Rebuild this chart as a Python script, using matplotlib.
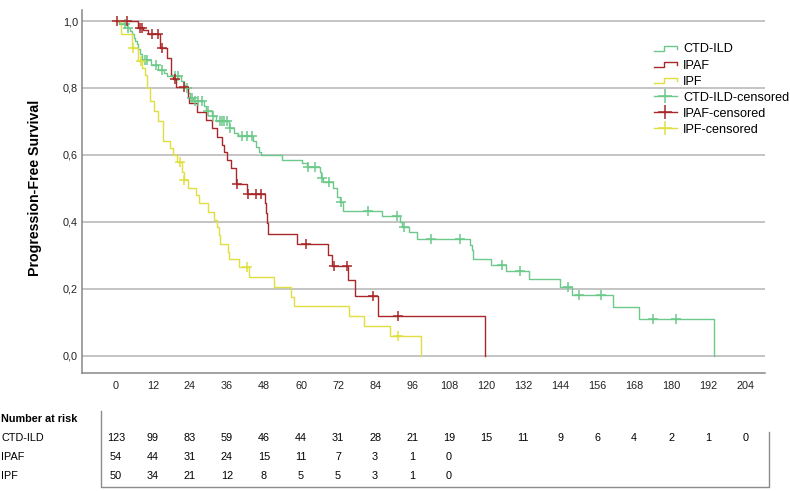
import numpy as np
import matplotlib
matplotlib.use("Agg")
import matplotlib.pyplot as plt
from matplotlib.lines import Line2D
from matplotlib.legend_handler import HandlerBase

plt.rcParams['font.family'] = ['Liberation Sans', 'DejaVu Sans']

# ---------------- data ----------------
groups = ["CTD-ILD", "IPAF", "IPF"]
colors = {"CTD-ILD": "#6cc98a", "IPAF": "#a8282a", "IPF": "#dfe040"}

ctd_times = [1.0, 3.5, 4.5, 5.3, 5.8, 6.3, 6.8, 7.3, 7.8, 8.5, 11.3, 13.5, 15.5, 16.4,
             21.0, 22.0, 22.5, 23.4, 24.0, 25.0, 28.4, 29.2, 31.0, 32.5, 36.5, 38.3,
             39.6, 44.5, 45.5, 46.3, 47.0, 53.7, 60.2, 61.8, 66.1, 66.6, 67.2, 70.4,
             71.5, 72.6, 73.7, 86.1, 92.1, 92.8, 94.9, 97.5, 114.8, 115.5, 115.9,
             121.5, 126.6, 134.0, 144.1, 147.7, 161.0, 169.6, 193.9]
ctd_surv = [0.99, 0.98, 0.97, 0.96, 0.95, 0.94, 0.93, 0.915, 0.90, 0.885, 0.87, 0.855, 0.845, 0.835,
            0.82, 0.81, 0.80, 0.785, 0.77, 0.76, 0.745, 0.73, 0.715, 0.70, 0.68, 0.665,
            0.655, 0.64, 0.625, 0.61, 0.60, 0.585, 0.575, 0.563, 0.55, 0.53, 0.52, 0.50,
            0.475, 0.46, 0.433, 0.416, 0.40, 0.385, 0.37, 0.348, 0.33, 0.315, 0.29,
            0.27, 0.252, 0.228, 0.206, 0.181, 0.144, 0.109, 0.0]
ctd_censor = [2.9, 4.0, 9.4, 10.1, 13.0, 14.8, 19.1, 20.2, 22.9, 24.5, 25.5, 26.5, 27.8,
              29.9, 31.5, 33.7, 34.4, 35.0, 35.9, 37.0, 40.8, 42.4, 44.0, 62.2, 64.5,
              66.8, 69.1, 73.0, 81.8, 91.0, 93.3, 102.0, 111.5, 125.3, 131.0, 146.6,
              150.2, 157.1, 174.0, 181.7]

ipaf_times = [7.2, 8.9, 10.3, 14.2, 16.4, 17.7, 17.9, 18.5, 19.6, 23.4, 23.6, 26.4, 29.1,
              31.2, 32.8, 34.3, 35.0, 35.9, 37.2, 38.9, 42.5, 48.2, 48.5, 49.0, 49.4,
              58.8, 68.8, 69.9, 75.3, 77.5, 85.0, 119.6]
ipaf_surv = [0.98, 0.973, 0.96, 0.918, 0.89, 0.865, 0.84, 0.826, 0.804, 0.772, 0.754, 0.729, 0.704,
             0.679, 0.654, 0.629, 0.609, 0.584, 0.56, 0.512, 0.482, 0.455, 0.425, 0.395, 0.363,
             0.333, 0.30, 0.268, 0.226, 0.179, 0.119, 0.0]
ipaf_censor = [0.2, 3.5, 7.8, 8.3, 11.6, 13.7, 14.8, 19.1, 22.1, 39.3, 42.7, 45.4, 47.0,
               61.6, 70.7, 74.8, 83.3, 91.5]

ipf_times = [1.5, 5.3, 7.0, 8.6, 9.5, 10.0, 11.0, 12.3, 13.7, 15.1, 17.5, 18.5, 19.9, 21.5,
             22.0, 23.4, 25.9, 27.0, 29.9, 31.8, 32.6, 33.4, 33.8, 36.2, 36.5, 40.0, 43.2,
             51.4, 56.7, 57.8, 75.6, 80.4, 89.0, 98.8]
ipf_surv = [0.96, 0.92, 0.88, 0.86, 0.84, 0.80, 0.76, 0.73, 0.70, 0.64, 0.62, 0.60, 0.58, 0.55,
            0.525, 0.50, 0.48, 0.455, 0.43, 0.405, 0.385, 0.36, 0.335, 0.31, 0.29, 0.265, 0.235,
            0.205, 0.175, 0.148, 0.118, 0.089, 0.06, 0.0]
ipf_censor = [5.6, 8.0, 20.7, 22.2, 42.5, 91.3]

risk_times = [0, 12, 24, 36, 48, 60, 72, 84, 96, 108, 120, 132, 144, 156, 168, 180, 192, 204]
ctd_risk = [123, 99, 83, 59, 46, 44, 31, 28, 21, 19, 15, 11, 9, 6, 4, 2, 1, 0]
ipaf_risk = [54, 44, 31, 24, 15, 11, 7, 3, 1, 0]
ipf_risk = [50, 34, 21, 12, 8, 5, 5, 3, 1, 0]

y_ticks = [0.0, 0.2, 0.4, 0.6, 0.8, 1.0]

series = {
    "CTD-ILD": (ctd_times, ctd_surv, ctd_censor, ctd_risk),
    "IPAF": (ipaf_times, ipaf_surv, ipaf_censor, ipaf_risk),
    "IPF": (ipf_times, ipf_surv, ipf_censor, ipf_risk),
}

# ---------------- figure ----------------
W, H = 790, 491
fig = plt.figure(figsize=(W / 100, H / 100), dpi=100)

def fx(px):
    return px / W

def fy(py):
    return 1 - py / H

ax_left, ax_right, ax_top, ax_bot = 82, 765, 10, 373
ax = fig.add_axes([fx(ax_left), fy(ax_bot), fx(ax_right - ax_left), (ax_bot - ax_top) / H])

lw = 1.0
for g in groups:
    t, s, c, _ = series[g]
    tt = np.concatenate([[0.0], t])
    ss = np.concatenate([[1.0], s])
    ax.step(tt, ss, where='post', color=colors[g], lw=lw, zorder=3)
    ct = np.asarray(c)
    idx = np.searchsorted(tt, ct, side='right') - 1
    ax.plot(ct, ss[idx], linestyle='none', marker='+', markersize=7, mew=1.1,
            color=colors[g], zorder=4)

ax.set_xlim(-11.0, 210.4)
ax.set_ylim(-0.052, 1.033)
ax.set_yticks(y_ticks)
ax.set_yticklabels([f"{v:.1f}".replace('.', ',') for v in y_ticks], fontsize=7.8)
ax.set_xticks(risk_times)
ax.set_xticklabels([str(v) for v in risk_times], fontsize=7.8)
ax.tick_params(axis='both', length=0, colors='#222222')
ax.tick_params(axis='x', pad=6)
ax.tick_params(axis='y', pad=3)
ax.yaxis.grid(True, color='#b4b4b4', lw=1.1, zorder=0)
ax.set_axisbelow(True)
for side in ['top', 'right']:
    ax.spines[side].set_visible(False)
for side in ['left', 'bottom']:
    ax.spines[side].set_color('#888888')
    ax.spines[side].set_linewidth(1.1)
ax.set_ylabel("Progression-Free Survival", fontsize=10.2, fontweight='bold')
ax.yaxis.set_label_coords((42 - ax_left) / (ax_right - ax_left), (ax_bot - 188) / (ax_bot - ax_top))


class StepHandler(HandlerBase):
    def create_artists(self, legend, orig_handle, xdescent, ydescent, width, height, fontsize, trans):
        xs = np.array([0.0, 0.45, 0.45, 1.0, 1.0]) * width - xdescent
        ys = np.array([0.15, 0.15, 0.75, 0.75, 0.45]) * height - ydescent
        ln = Line2D(xs, ys, color=orig_handle.get_color(), lw=orig_handle.get_linewidth())
        ln.set_transform(trans)
        return [ln]


class StepProxy(Line2D):
    pass


handles = [StepProxy([], [], color=colors[g], lw=lw) for g in groups]
handles += [Line2D([], [], color=colors[g], lw=lw, marker='+', markersize=10, mew=1.1) for g in groups]
labels = groups + [g + "-censored" for g in groups]
leg = fig.legend(handles, labels, loc='upper left', bbox_to_anchor=(fx(654), fy(43.5)),
                 frameon=False, fontsize=9.1, handlelength=1.8, handletextpad=0.5,
                 labelspacing=0.32, borderpad=0, borderaxespad=0,
                 handler_map={StepProxy: StepHandler()})

# ---------------- risk table ----------------
tb_top, tb_bot = 402, 491
tax = fig.add_axes([fx(ax_left), fy(tb_bot), fx(ax_right - ax_left), (tb_bot - tb_top) / H])
tax.set_xlim(ax.get_xlim())
tax.set_ylim(tb_bot, tb_top)
tax.axis('off')

row_y = {"CTD-ILD": 438, "IPAF": 457, "IPF": 476}
fig.text(fx(1), fy(419), "Number at risk", fontsize=7.8, fontweight='bold', va='center', ha='left')
for g in groups:
    fig.text(fx(1), fy(row_y[g]), g, fontsize=7.8, va='center', ha='left')
    risk = series[g][3]
    for tm, n in zip(risk_times, risk):
        tax.text(tm, row_y[g], str(n), fontsize=7.8, ha='center', va='center')

box_l = (101 - 116) / 3.085
box_r = (769 - 116) / 3.085
tax.plot([box_l, box_l, box_r, box_r], [411, 487, 487, 432], color='#8c8c8c', lw=1.0,
         clip_on=False)

fig.savefig("out.png", dpi=100)
